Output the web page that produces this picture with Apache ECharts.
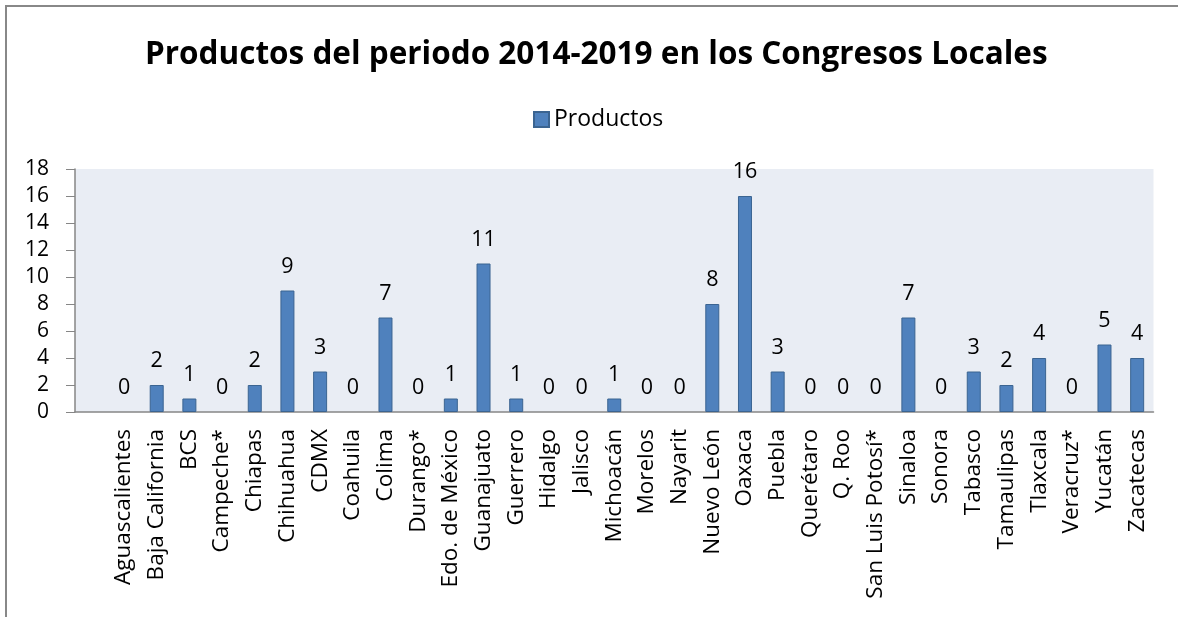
<!DOCTYPE html>
<html>
<head>
<meta charset="utf-8">
<script src="https://cdn.jsdelivr.net/npm/echarts@6/dist/echarts.min.js"></script>
<style>html,body{margin:0;padding:0;background:#fff;}#c{width:1178px;height:617px;}</style>
</head>
<body>
<div id="c"></div>
<script>
// first category is an empty slot, as in the source chart
const categories = ["","Aguascalientes","Baja California","BCS","Campeche*","Chiapas","Chihuahua","CDMX","Coahuila","Colima","Durango*","Edo. de México","Guanajuato","Guerrero","Hidalgo","Jalisco","Michoacán","Morelos","Nayarit","Nuevo León","Oaxaca","Puebla","Querétaro","Q. Roo","San Luis Potosí*","Sinaloa","Sonora","Tabasco","Tamaulipas","Tlaxcala","Veracruz*","Yucatán","Zacatecas"];
const productos = [null,0,2,1,0,2,9,3,0,7,0,1,11,1,0,0,1,0,0,8,16,3,0,0,0,7,0,3,2,4,0,5,4];
const yTicks = {min:0, max:18, interval:2};
const FONT = "Open Sans";
const barData = productos.map(v => v === null ? '-' : ({value:v, itemStyle:{borderWidth: v === 0 ? 0 : 1}}));
const chart = echarts.init(document.getElementById('c'), null, {renderer:'canvas'});
chart.setOption({
  animation:false,
  backgroundColor:'#fff',
  graphic:[{type:'rect', shape:{x:6,y:6,width:1200,height:640}, style:{fill:'none', stroke:'#888', lineWidth:2}, silent:true}],
  title:{text:'Productos del periodo 2014-2019 en los Congresos Locales', left:140, top:34,
    textStyle:{fontFamily:FONT, fontWeight:'bold', fontSize:31.5, color:'#000'}},
  legend:{data:['Productos'], top:103, left:528, icon:'rect', itemWidth:15, itemHeight:15, itemGap:8,
    textStyle:{fontFamily:FONT, fontSize:23, color:'#000'}},
  grid:{left:75, right:24.5, top:169, bottom:205, containLabel:false, show:true, backgroundColor:'#E9EDF4', borderWidth:0},
  xAxis:{type:'category', data:categories,
    axisLine:{lineStyle:{color:'#868686', width:1.5}}, axisTick:{show:false},
    axisLabel:{rotate:90, interval:0, margin:17, fontFamily:FONT, fontSize:22.5, color:'#000'}},
  yAxis:{type:'value', min:yTicks.min, max:yTicks.max, interval:yTicks.interval,
    axisLine:{show:true, lineStyle:{color:'#868686', width:1.5}},
    axisTick:{show:true, length:9, inside:false, lineStyle:{color:'#868686'}},
    splitLine:{show:false},
    axisLabel:{margin:26, fontFamily:FONT, fontSize:21, color:'#000'}},
  series:[{name:'Productos', type:'bar', data:barData, barWidth:14,
    itemStyle:{color:'#4F81BD', borderColor:'#3B6491', borderWidth:1},
    label:{show:true, position:'top', distance:13, fontFamily:FONT, fontSize:21.5, color:'#000'}}]
});
</script>
</body>
</html>
